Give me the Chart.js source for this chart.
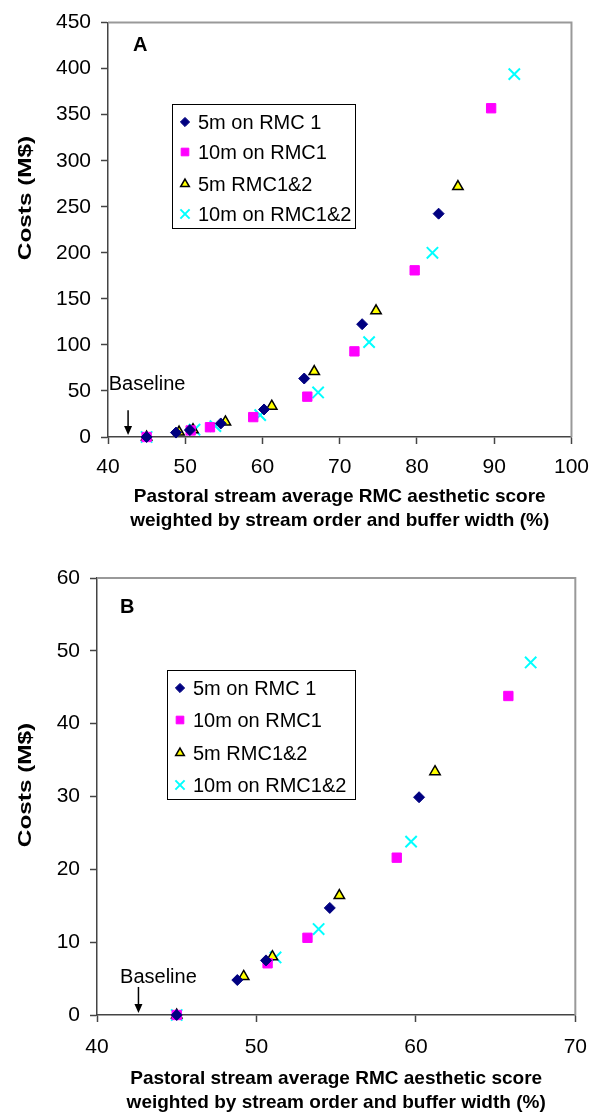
<!DOCTYPE html>
<html>
<head>
<meta charset="utf-8">
<script src="https://cdn.jsdelivr.net/npm/chart.js@4/dist/chart.umd.min.js"></script>
<style>
  html, body { margin: 0; padding: 0; background: #fff; }
  canvas { position: absolute; left: 0; }
  #chartA { top: 0; }
  #chartB { top: 555px; }
</style>
</head>
<body>
<canvas id="chartA" width="600" height="555"></canvas>
<canvas id="chartB" width="600" height="560"></canvas>
<script>
Chart.defaults.font.family = '"Liberation Sans", Arial, sans-serif';
Chart.defaults.color = '#000';

// series names (legend order)
const seriesNames = ['5m on RMC 1', '10m on RMC1', '5m RMC1&2', '10m on RMC1&2'];

// 5m on RMC 1
const fiveRmc1X = [45, 48.8, 50.6, 54.6, 60.2, 65.4, 72.9, 82.8];
const fiveRmc1Y = [0, 4.8, 7.5, 14.7, 29.9, 63.5, 122.5, 242.5];
// 10m on RMC1
const tenRmc1X = [45, 50.7, 53.2, 58.8, 65.8, 71.9, 79.7, 89.6];
const tenRmc1Y = [0, 7.1, 10.6, 21.6, 43.8, 93, 181, 357];
// 5m RMC1&2
const fiveRmc12X = [45, 49.2, 51.0, 55.2, 61.2, 66.7, 74.7, 85.3];
const fiveRmc12Y = [0, 5.3, 8.0, 16.4, 33.4, 71, 137, 272];
// 10m on RMC1&2
const tenRmc12X = [45, 51.2, 53.9, 59.7, 67.2, 73.8, 82.0, 92.6];
const tenRmc12Y = [0, 7.9, 11.8, 23.8, 48.4, 103, 200, 394];

const seriesX = [fiveRmc1X, tenRmc1X, fiveRmc12X, tenRmc12X];
const seriesY = [fiveRmc1Y, tenRmc1Y, fiveRmc12Y, tenRmc12Y];

// baseline score marked with an arrow
const baselineX = 42.6;

const xTitle = ['Pastoral stream average RMC aesthetic score', 'weighted by stream order and buffer width (%)'];
const yTitle = 'Costs (M$)';

const markers = [
  { style: 'rectRot', r: 5.5, lr: 4.6, fill: '#000080', stroke: '#000080', bw: 1 },
  { style: 'rect', r: 6.6, lr: 5.4, fill: '#ff00ff', stroke: '#ff00ff', bw: 1 },
  { style: 'triangle', r: 6, lr: 5, fill: '#ffff00', stroke: '#000000', bw: 1.5 },
  { style: 'crossRot', r: 8, lr: 6.5, fill: '#00ffff', stroke: '#00ffff', bw: 2 }
];

function drawMarker(ctx, m, x, y, r) {
  ctx.save();
  ctx.fillStyle = m.fill;
  ctx.strokeStyle = m.stroke;
  ctx.lineWidth = m.bw;
  ctx.beginPath();
  if (m.style === 'rectRot') {
    ctx.moveTo(x, y - r); ctx.lineTo(x + r, y); ctx.lineTo(x, y + r); ctx.lineTo(x - r, y);
    ctx.closePath(); ctx.fill(); ctx.stroke();
  } else if (m.style === 'rect') {
    const s = r * Math.SQRT1_2;
    ctx.rect(x - s, y - s, 2 * s, 2 * s); ctx.fill(); ctx.stroke();
  } else if (m.style === 'triangle') {
    const w = r * Math.sin(Math.PI / 3);
    ctx.moveTo(x, y - r); ctx.lineTo(x + w, y + r / 2); ctx.lineTo(x - w, y + r / 2);
    ctx.closePath(); ctx.fill(); ctx.stroke();
  } else {
    const o = r * Math.SQRT1_2;
    ctx.moveTo(x - o, y - o); ctx.lineTo(x + o, y + o);
    ctx.moveTo(x + o, y - o); ctx.lineTo(x - o, y + o);
    ctx.stroke();
  }
  ctx.restore();
}

const extrasPlugin = {
  id: 'extras',
  beforeDatasetsDraw(chart) {
    const { ctx, chartArea: a } = chart;
    ctx.save();
    ctx.strokeStyle = '#999';
    ctx.lineWidth = 2;
    ctx.beginPath();
    ctx.moveTo(a.left, a.top);
    ctx.lineTo(a.right, a.top);
    ctx.lineTo(a.right, a.bottom);
    ctx.stroke();
    ctx.restore();
  },
  afterDatasetsDraw(chart, args, opts) {
    const { ctx, scales: { x, y } } = chart;
    ctx.save();
    // y axis title (the original figure is stretched vertically)
    ctx.save();
    ctx.translate(opts.yTitleX, opts.yTitleY);
    ctx.rotate(-Math.PI / 2);
    ctx.scale(1.28, 1);
    ctx.font = 'bold 19px "Liberation Sans", Arial';
    ctx.fillStyle = '#000';
    ctx.textAlign = 'center';
    ctx.textBaseline = 'middle';
    ctx.fillText(yTitle, 0, 0);
    ctx.restore();

    // panel letter
    ctx.font = 'bold 20px "Liberation Sans", Arial';
    ctx.fillStyle = '#000';
    ctx.textAlign = 'left';
    ctx.textBaseline = 'middle';
    ctx.fillText(opts.letter, opts.letterX, opts.letterY);

    // baseline arrow
    const ax = x.getPixelForValue(baselineX);
    const top = y.getPixelForValue(opts.arrowTop);
    const tip = y.getPixelForValue(0) - 2;
    ctx.strokeStyle = '#000';
    ctx.lineWidth = 1.5;
    ctx.beginPath();
    ctx.moveTo(ax, top);
    ctx.lineTo(ax, tip - 6);
    ctx.stroke();
    ctx.beginPath();
    ctx.moveTo(ax, tip);
    ctx.lineTo(ax - 4, tip - 9);
    ctx.lineTo(ax + 4, tip - 9);
    ctx.closePath();
    ctx.fill();
    ctx.font = '20px "Liberation Sans", Arial';
    ctx.textAlign = 'center';
    ctx.textBaseline = 'alphabetic';
    ctx.fillText('Baseline', ax + opts.textDx, top - opts.textDy);

    // legend box
    const b = opts.box;
    ctx.fillStyle = '#fff';
    ctx.fillRect(b.x, b.y, b.w, b.h);
    ctx.strokeStyle = '#000';
    ctx.lineWidth = 1;
    ctx.strokeRect(b.x + 0.5, b.y + 0.5, b.w, b.h);
    ctx.font = '20px "Liberation Sans", Arial';
    ctx.textAlign = 'left';
    ctx.textBaseline = 'middle';
    seriesNames.forEach((name, i) => {
      const ry = b.y + b.rows[i];
      drawMarker(ctx, markers[i], b.x + 13, ry, markers[i].lr);
      ctx.fillStyle = '#000';
      ctx.fillText(name, b.x + 26, ry + 1);
    });
    ctx.restore();
  }
};

function makeChart(id, c) {
  const datasets = seriesNames.map((name, i) => ({
    label: name,
    data: seriesX[i].map((v, j) => ({ x: v, y: seriesY[i][j] }))
      .filter(p => p.x <= c.xMax && p.y <= c.yMax),
    pointStyle: markers[i].style,
    pointRadius: markers[i].r,
    pointBackgroundColor: markers[i].fill,
    pointBorderColor: markers[i].stroke,
    pointBorderWidth: markers[i].bw,
    showLine: false,
    clip: false
  }));

  const axisColor = '#444';
  new Chart(document.getElementById(id), {
    type: 'scatter',
    data: { datasets },
    plugins: [extrasPlugin],
    options: {
      responsive: false,
      animation: false,
      events: [],
      layout: { padding: c.padding },
      plugins: {
        legend: { display: false },
        tooltip: { enabled: false },
        extras: c.extras
      },
      scales: {
        x: {
          type: 'linear',
          min: c.xMin, max: c.xMax,
          ticks: { stepSize: c.xStep, font: { size: 21 }, padding: c.xTickPad, color: '#000' },
          grid: { drawOnChartArea: false, tickLength: 7, tickColor: axisColor, tickWidth: 1.5 },
          border: { color: axisColor, width: 1.5 },
          title: {
            display: true, text: xTitle, color: '#000',
            font: { size: 19, weight: 'bold', lineHeight: '24px' },
            padding: { top: 0, bottom: c.xTitlePad }
          },
          afterFit(s) { s.height = c.xAxisH; }
        },
        y: {
          type: 'linear',
          min: 0, max: c.yMax,
          ticks: { stepSize: c.yStep, font: { size: 21 }, padding: 10, color: '#000' },
          grid: { drawOnChartArea: false, tickLength: 7, tickColor: axisColor, tickWidth: 1.5 },
          border: { color: axisColor, width: 1.5 },
          title: { display: false },
          afterFit(s) { s.width = c.yAxisW; }
        }
      }
    }
  });
}

makeChart('chartA', {
  xMin: 40, xMax: 100, xStep: 10, yMax: 450, yStep: 50,
  padding: { left: 0, top: 16, right: 23, bottom: 0 },
  xAxisH: 118, yAxisW: 108, xTickPad: 11, xTitlePad: 22,
  extras: {
    yTitleX: 26, yTitleY: 198,
    letter: 'A', letterX: 133, letterY: 45,
    arrowTop: 29, textDx: 19, textDy: 20,
    box: { x: 172, y: 104, w: 183, h: 124, rows: [18, 48, 80, 110] }
  }
});

makeChart('chartB', {
  xMin: 40, xMax: 70, xStep: 10, yMax: 60, yStep: 10,
  padding: { left: 0, top: 23, right: 12, bottom: 0 },
  xAxisH: 100, yAxisW: 97, xTickPad: 13, xTitlePad: 0,
  extras: {
    yTitleX: 26, yTitleY: 230,
    letter: 'B', letterX: 120, letterY: 52,
    arrowTop: 3.85, textDx: 20, textDy: 4,
    box: { x: 167, y: 115, w: 188, h: 129, rows: [18, 50, 83, 115] }
  }
});
</script>
</body>
</html>
